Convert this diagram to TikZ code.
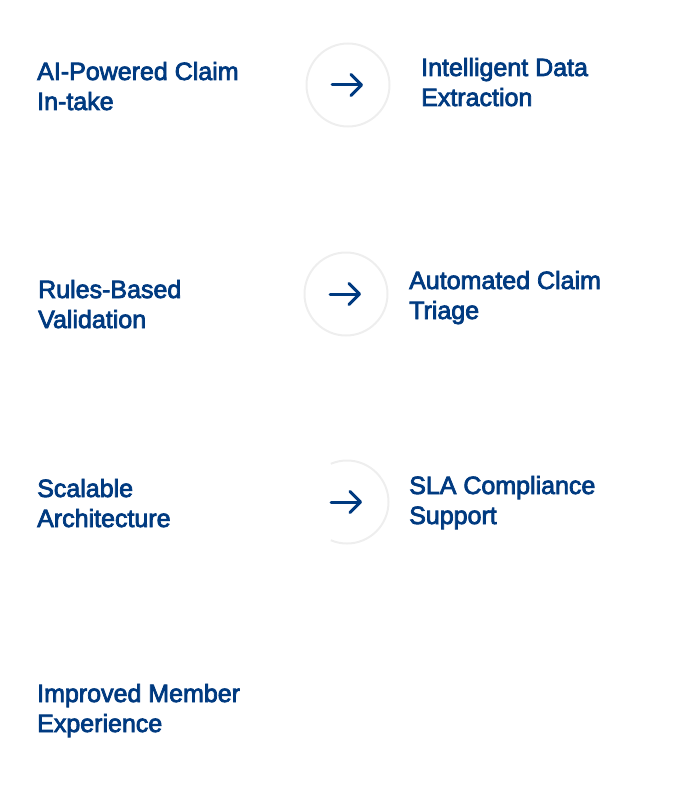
\documentclass[tikz,border=0pt]{standalone}
\usepackage{fontspec}
\setmainfont{Liberation Sans}[FakeBold=3]
\definecolor{navy}{RGB}{0,58,128}
\definecolor{ringgray}{RGB}{238,238,238}
\begin{document}
\begin{tikzpicture}[x=1pt,y=-1pt,
  lab/.style={anchor=base west,inner sep=0pt,align=left,text=navy,
    font=\fontsize{25}{30}\selectfont},
  ring/.style={circle,draw=ringgray,line width=2pt,minimum size=83pt,inner sep=0pt},
  ringline/.style={draw=ringgray,line width=2pt},
  arw/.style={draw=navy,line width=3pt,line cap=round,line join=round}]
\useasboundingbox (0,0) rectangle (695,797);
% labels (anchor = baseline of the last line)
\node[lab] (t1) at (37,110) {AI-Powered Claim\\In-take};
\node[lab] (t2) at (421,106) {Intelligent Data\\Extraction};
\node[lab] (t3) at (38,328) {Rules-Based\\Validation};
\node[lab] (t4) at (409,319) {Automated Claim\\Triage};
\node[lab] (t5) at (37,527) {Scalable\\Architecture};
\node[lab] (t6) at (409,524) {SLA Compliance\\Support};
\node[lab] (t7) at (37,732) {Improved Member\\Experience};
% rings
\node[ring] (c1) at (348,85) {};
\node[ring] (c2) at (346,294) {};
\coordinate (c3) at (347,502);
\draw[ringline] ([shift={(113:41.5)}]c3) arc[start angle=113,end angle=-113,radius=41.5];
% arrows
\foreach \c in {c1,c2,c3}{
  \draw[arw] ([xshift=-16pt]\c.center) -- ([xshift=13pt]\c.center);
  \draw[arw] ([xshift=3pt,yshift=-10.5pt]\c.center) -- ([xshift=13.5pt]\c.center) -- ([xshift=3pt,yshift=10.5pt]\c.center);
}
\end{tikzpicture}
\end{document}
